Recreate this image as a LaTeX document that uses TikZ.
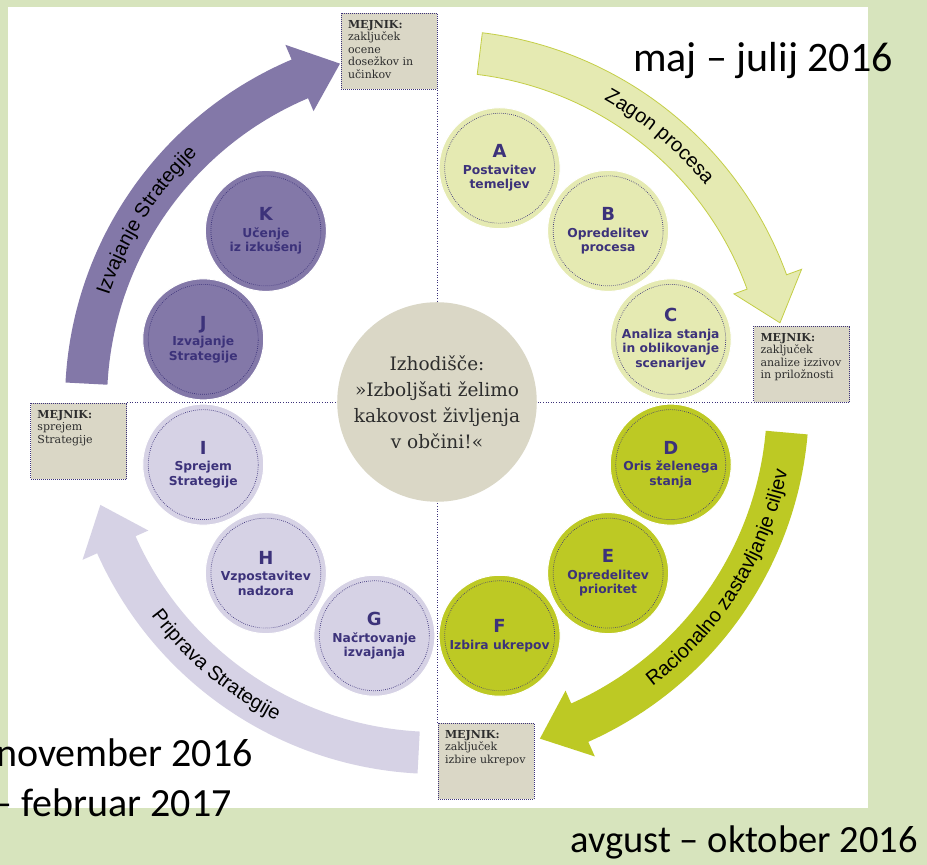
\documentclass[tikz,border=0pt]{standalone}
\usepackage{fontspec}
\setmainfont{DejaVu Serif}
\newfontfamily\datefont{Carlito}
\newfontfamily\arcfamily{Liberation Sans}
\newfontfamily\stagefamily{DejaVu Sans}
\newfontfamily\slabfamily{DejaVu Serif}
\usetikzlibrary{calc, decorations.text}

\definecolor{bggreen}{RGB}{215,228,189}
\definecolor{paleLime}{RGB}{229,234,178}
\definecolor{limeEdge}{RGB}{196,206,70}
\definecolor{olive}{RGB}{189,201,36}
\definecolor{lavender}{RGB}{214,210,229}
\definecolor{violet}{RGB}{131,120,168}
\definecolor{stone}{RGB}{218,215,198}
\definecolor{ink}{RGB}{60,50,122}
\definecolor{darktext}{RGB}{45,45,45}

\newcommand\arcfont{\arcfamily\fontsize{20}{24}\selectfont}
% curved band with head: style, start angle, head base angle, tip angle
\newcommand\cyclearrow[4]{%
  \path[#1] (#2:330) arc[start angle=#2, end angle=#3, radius=330] -- (#3:316)
    -- (#4:352) -- (#3:388) -- (#3:372) arc[start angle=#3, end angle=#2, radius=372] -- cycle;}
% text along an arc: text, start angle, end angle, radius
\newcommand\arclabel[4]{%
  \path[decorate, decoration={text along path, text align=center, text={|\arcfont|#1}}]
    (#2:#4) arc[start angle=#2, end angle=#3, radius=#4];}

\tikzset{
  stage/.style={circle, minimum size=121pt, inner sep=0pt, draw=white, line width=1pt,
    align=center, text=ink, font=\stagefamily\bfseries\fontsize{12.3}{14.5}\selectfont},
  ring/.style={ink, line width=0.7pt, dash pattern=on 0.7pt off 1.3pt},
  milestone/.style={rectangle, fill=stone, draw=ink, line width=1pt,
    dash pattern=on 1pt off 1pt, inner xsep=7pt, inner ysep=7pt,
    font=\slabfamily\fontsize{11}{12.4}\selectfont, text=darktext},
  cross/.style={ink, line width=1pt, dash pattern=on 1pt off 1.6pt},
  datelbl/.style={font=\datefont\fontsize{40}{48}\selectfont, inner sep=0pt},
}

\begin{document}
\begin{tikzpicture}[x=1pt, y=1pt]
\useasboundingbox (0,0) rectangle (927,865);
\fill[bggreen] (0,0) rectangle (927,865);
\fill[white] (8,57) rectangle (868,858);

\begin{scope}[shift={(437,463)}]
% phase arrows
\cyclearrow{fill=paleLime, draw=limeEdge, line width=0.8pt}{83}{20}{13}
\cyclearrow{fill=olive}{-5}{-66}{-73}
\cyclearrow{fill=lavender}{-93}{-156}{-163}
\cyclearrow{fill=violet}{177}{113}{106}
\arclabel{Zagon procesa}{90}{10}{345}
\arclabel{Izvajanje Strategije}{188}{108}{345}
\arclabel{Racionalno zastavljanje ciljev}{-82}{18}{357}
\arclabel{Priprava Strategije}{-175}{-85}{357}
\end{scope}

% milestones
\node[milestone, anchor=south east] (mtop) at (437.5,775)
  {\parbox[t][62pt][t]{82pt}{\raggedright\textbf{MEJNIK:}\\zaključek\\ocene\\dosežkov in\\učinkov}};
\node[milestone, anchor=south west] (mright) at (753,462)
  {\parbox[t][62pt][t]{82pt}{\raggedright\textbf{MEJNIK:}\\zaključek\\analize izzivov\\in priložnosti}};
\node[milestone, anchor=north west] (mbottom) at (437.5,142)
  {\parbox[t][62pt][t]{82pt}{\raggedright\textbf{MEJNIK:}\\zaključek\\izbire ukrepov}};
\node[milestone, anchor=north east] (mleft) at (127,462)
  {\parbox[t][62pt][t]{82pt}{\raggedright\textbf{MEJNIK:}\\sprejem\\Strategije}};
\draw[cross] (mtop.south east) -- (mbottom.north west);
\draw[cross] (mleft.north east) -- (mright.south west);

\begin{scope}[shift={(437,463)}]
\foreach \nm/\ang/\col/\txt in {
  A/75/paleLime/{Postavitev\\temeljev},
  B/45/paleLime/{Opredelitev\\procesa},
  C/15/paleLime/{Analiza stanja\\in oblikovanje\\scenarijev},
  D/-15/olive/{Oris želenega\\stanja},
  E/-45/olive/{Opredelitev\\prioritet},
  F/-75/olive/{Izbira ukrepov},
  G/-105/lavender/{Načrtovanje\\izvajanja},
  H/-135/lavender/{Vzpostavitev\\nadzora},
  I/-165/lavender/{Sprejem\\Strategije},
  J/165/violet/{Izvajanje\\Strategije},
  K/135/violet/{Učenje\\iz izkušenj}}
{
  \node[stage, fill=\col] (st\nm) at (\ang:242) {{\fontsize{18}{19}\selectfont\nm}\\[2pt]\txt};
  \draw[ring] (st\nm.center) circle[radius=55];
}
\node[circle, fill=stone, minimum size=190pt, align=center, text=darktext,
  font=\slabfamily\fontsize{18.5}{26}\selectfont] (start) at (0,0)
  {Izhodišče:\\»Izboljšati želimo\\kakovost življenja\\v občini!«};
\end{scope}

% periods
\node[datelbl, font=\datefont\fontsize{42}{48}\selectfont, anchor=base east] (may) at (893,793) {maj – julij 2016};
\node[datelbl, font=\datefont\fontsize{38.5}{48}\selectfont, anchor=base east] (aug) at (918,12) {avgust – oktober 2016};
\node[datelbl, anchor=base east] (nov) at (253,98) {november 2016};
\node[datelbl, anchor=base east] (feb) at (232,48) {– februar 2017};
\end{tikzpicture}
\end{document}
